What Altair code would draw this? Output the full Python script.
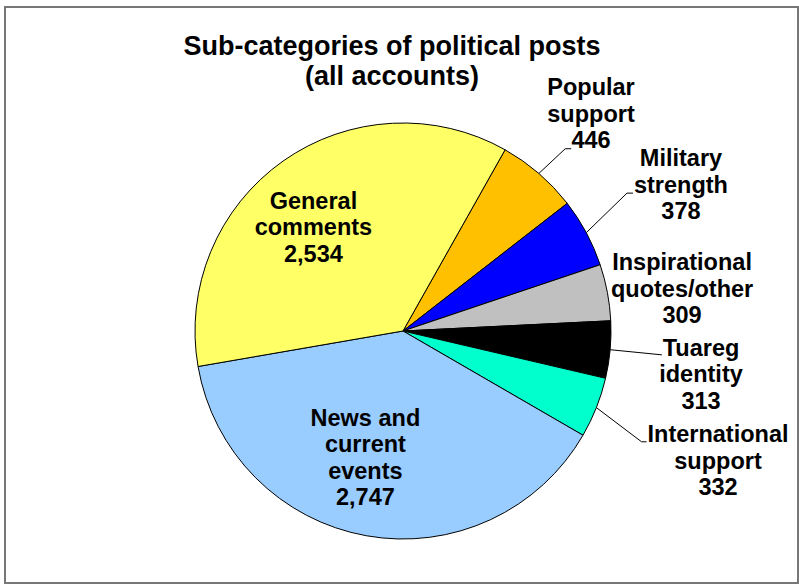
import altair as alt
import pandas as pd
import numpy as np

# ---- data ----
categories = ["Popular support", "Military strength", "Inspirational quotes/other",
              "Tuareg identity", "International support", "News and current events",
              "General comments"]
label_names = ["Popular\nsupport", "Military\nstrength", "Inspirational\nquotes/other",
               "Tuareg\nidentity", "International\nsupport", "News and\ncurrent\nevents",
               "General\ncomments"]
values = [446, 378, 309, 313, 332, 2747, 2534]
colors = ["#FFC000", "#0000FF", "#C0C0C0", "#000000", "#00FFCC", "#99CCFF", "#FFFF66"]
title_lines = ["Sub-categories of political posts", "(all accounts)"]

# ---- layout (pixels / degrees) ----
W, H = 793, 576
CX, CY = 398, 324          # pie centre within the view
R = 208                    # pie radius
START_DEG = 29.4           # where the first slice begins, clockwise from 12 o'clock
label_radius = [286.7, 313.7, 282.1, 301.3, 341.0, 133.0, 136.5]
label_nudge = [0.2, 0.6, 2.3, 3.3, 0.9, 6.3, -5.8]
# leader lines: index -> (elbow radius, elbow angle nudge, horizontal tail)
leaders = {0: (244, 0.9, 6), 1: (263, -3.4, 6), 3: (260, 0.1, 0), 4: (263, 3.3, 5)}
FONT = "Liberation Sans"
LAB_LH = 26.5
TITLE_LH = 30

total = float(sum(values))
cum = np.cumsum([0] + values)
mid_deg = [START_DEG + (cum[i] + values[i] / 2) / total * 360 for i in range(len(values))]


def polar(r, deg):
    a = np.deg2rad(deg)
    return CX + r * np.sin(a), CY - r * np.cos(a)


pie_df = pd.DataFrame({"category": categories, "value": values,
                       "order": list(range(len(values)))})

lab_rows = []
for i, name in enumerate(label_names):
    text = name + "\n" + f"{values[i]:,}"
    n = text.count("\n") + 1
    x, y = polar(label_radius[i], mid_deg[i] + label_nudge[i])
    # vega puts the first line on y: shift so the block is centred
    lab_rows.append({"category": categories[i], "label": text,
                     "lx": x, "ly": y - (n - 1) * LAB_LH / 2})
lab_df = pd.DataFrame(lab_rows)

line_rows = []
for i, (er, en, tail) in leaders.items():
    x0, y0 = polar(R, mid_deg[i])
    x1, y1 = polar(er, mid_deg[i] + en)
    pts = [(x0, y0), (x1, y1)]
    if tail:
        pts.append((x1 + tail, y1))
    for k, (px, py) in enumerate(pts):
        line_rows.append({"category": categories[i], "seq": k, "px": px, "py": py})
line_df = pd.DataFrame(line_rows)

s = np.deg2rad(START_DEG)

arc = alt.Chart(pie_df).mark_arc(outerRadius=R, stroke="black", strokeWidth=1).encode(
    theta=alt.Theta("value:Q", stack=True, scale=alt.Scale(range=[s, s + 2 * np.pi])),
    color=alt.Color("category:N", scale=alt.Scale(domain=categories, range=colors), legend=None),
    order=alt.Order("order:Q"),
    x=alt.value(CX),
    y=alt.value(CY),
)

leader = alt.Chart(line_df).mark_line(color="black", strokeWidth=1).encode(
    x=alt.X("px:Q", scale=None, axis=None),
    y=alt.Y("py:Q", scale=None, axis=None),
    detail="category:N",
    order="seq:Q",
)

labels = alt.Chart(lab_df).mark_text(
    font=FONT, fontWeight="bold", fontSize=23.5, lineBreak="\n", lineHeight=LAB_LH,
    align="center", baseline="middle", color="black",
).encode(
    x=alt.X("lx:Q", scale=None, axis=None),
    y=alt.Y("ly:Q", scale=None, axis=None),
    text="label:N",
)

title = alt.Chart(pd.DataFrame({"t": ["\n".join(title_lines)]})).mark_text(
    font=FONT, fontWeight="bold", fontSize=27, lineBreak="\n", lineHeight=TITLE_LH,
    align="center", baseline="middle", color="black",
).encode(
    x=alt.value(387),
    y=alt.value(55 - TITLE_LH / 2),
    text="t:N",
)

chart = alt.layer(arc, leader, labels, title).properties(
    width=W, height=H,
    padding={"left": 5, "top": 7, "right": 1, "bottom": 4},
    autosize=alt.AutoSizeParams(type="none"),
    background="white",
).configure_view(stroke="#777777", strokeWidth=2)

chart.save("out.html", embed_options={"renderer": "svg", "actions": False})
